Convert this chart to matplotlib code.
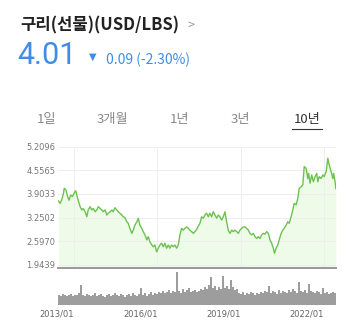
import matplotlib
matplotlib.use('Agg')
import matplotlib.pyplot as plt
import numpy as np

plt.rcParams['font.family'] = ['Noto Sans CJK KR', 'DejaVu Sans']

# price data (USD/LBS), x in decimal years
years = [2012.44, 2012.50, 2012.56, 2012.62, 2012.65, 2012.71, 2012.77, 2012.82, 2012.88, 2012.94,
         2013.00, 2013.06, 2013.10, 2013.15, 2013.22, 2013.28, 2013.33, 2013.40, 2013.46, 2013.51,
         2013.58, 2013.64, 2013.69, 2013.76, 2013.82, 2013.87, 2013.94, 2014.00, 2014.05, 2014.12,
         2014.18, 2014.23, 2014.30, 2014.36, 2014.41, 2014.47, 2014.54, 2014.59, 2014.65, 2014.72,
         2014.77, 2014.83, 2014.90, 2014.95, 2015.01, 2015.08, 2015.13, 2015.19, 2015.26, 2015.31,
         2015.37, 2015.44, 2015.49, 2015.55, 2015.62, 2015.67, 2015.73, 2015.80, 2015.85, 2015.91,
         2015.97, 2016.03, 2016.09, 2016.15, 2016.21, 2016.27, 2016.33, 2016.39, 2016.45, 2016.51,
         2016.57, 2016.63, 2016.69, 2016.75, 2016.81, 2016.87, 2016.93, 2016.99, 2017.05, 2017.11,
         2017.17, 2017.23, 2017.29, 2017.35, 2017.41, 2017.47, 2017.53, 2017.59, 2017.65, 2017.71,
         2017.77, 2017.83, 2017.89, 2017.95, 2018.01, 2018.07, 2018.13, 2018.19, 2018.25, 2018.31,
         2018.37, 2018.43, 2018.49, 2018.55, 2018.61, 2018.67, 2018.73, 2018.79, 2018.85, 2018.91,
         2018.97, 2019.03, 2019.09, 2019.15, 2019.21, 2019.27, 2019.33, 2019.39, 2019.45, 2019.51,
         2019.57, 2019.63, 2019.69, 2019.75, 2019.81, 2019.87, 2019.93, 2019.99, 2020.05, 2020.11,
         2020.17, 2020.21, 2020.27, 2020.33, 2020.38, 2020.45, 2020.51, 2020.56, 2020.63, 2020.69,
         2020.74, 2020.81, 2020.87, 2020.92, 2020.99, 2021.05, 2021.10, 2021.17, 2021.23, 2021.28,
         2021.35, 2021.41, 2021.44, 2021.49, 2021.55, 2021.61, 2021.67, 2021.73, 2021.77, 2021.82,
         2021.89, 2021.95, 2022.00, 2022.07, 2022.13, 2022.18, 2022.25, 2022.31, 2022.34, 2022.39,
         2022.42]
prices = [3.71, 3.64, 3.74, 3.92, 4.06, 4.01, 3.83, 3.73, 3.87, 3.83,
          3.92, 3.99, 3.87, 3.73, 3.55, 3.46, 3.50, 3.41, 3.27, 3.46,
          3.55, 3.46, 3.50, 3.41, 3.46, 3.55, 3.50, 3.46, 3.41, 3.46,
          3.32, 3.37, 3.41, 3.46, 3.41, 3.52, 3.46, 3.41, 3.37, 3.32,
          3.27, 3.25, 3.13, 3.09, 2.95, 2.81, 2.90, 3.04, 3.13, 3.23,
          3.04, 2.95, 2.86, 2.77, 2.63, 2.72, 2.58, 2.49, 2.44, 2.49,
          2.30, 2.40, 2.49, 2.54, 2.44, 2.54, 2.40, 2.49, 2.40, 2.49,
          2.44, 2.49, 2.40, 2.49, 2.77, 2.95, 2.90, 2.95, 2.99, 2.95,
          2.90, 2.86, 2.81, 2.86, 2.92, 3.01, 3.09, 3.27, 3.23, 3.32,
          3.37, 3.27, 3.37, 3.27, 3.41, 3.32, 3.23, 3.32, 3.27, 3.18,
          3.27, 3.41, 3.13, 2.90, 2.81, 2.90, 2.86, 2.90, 2.86, 2.81,
          2.90, 2.95, 2.99, 2.99, 2.95, 2.90, 2.81, 2.77, 2.81, 2.72,
          2.67, 2.72, 2.67, 2.77, 2.81, 2.79, 2.86, 2.81, 2.63, 2.54,
          2.40, 2.26, 2.40, 2.49, 2.63, 2.81, 2.90, 2.95, 3.04, 3.13,
          3.09, 3.27, 3.46, 3.64, 3.60, 3.78, 4.06, 4.10, 4.15, 4.66,
          4.61, 4.33, 4.47, 4.20, 4.43, 4.24, 4.38, 4.47, 4.24, 4.38,
          4.33, 4.43, 4.38, 4.52, 4.89, 4.70, 4.52, 4.33, 4.47, 4.24,
          4.05]

# volume bars (relative heights), 2012/06 -> 2022/06
volumes = [10, 9, 11, 10, 9, 10, 11, 9, 10, 10, 12, 20, 10, 9, 11, 10, 9, 10, 12, 9,
           10, 11, 9, 8, 10, 11, 9, 10, 12, 10, 9, 11, 10, 8, 10, 11, 9, 12, 10, 9,
           11, 17, 10, 12, 9, 11, 13, 10, 12, 11, 13, 12, 14, 12, 13, 15, 12, 14, 13, 33,
           14, 12, 16, 13, 15, 17, 13, 14, 15, 13, 14, 16, 15, 18, 16, 20, 28, 17, 19, 15,
           18, 16, 29, 17, 19, 16, 25, 18, 15, 16, 12, 11, 13, 10, 12, 11, 13, 12, 10, 12,
           11, 13, 12, 14, 13, 19, 12, 14, 13, 11, 15, 12, 14, 13, 12, 15, 13, 16, 14, 12,
           23, 14, 13, 15, 12, 21, 14, 13, 12, 14, 13, 11, 17, 12, 13, 11, 12, 13, 12]
vol_years = np.linspace(2012.45, 2022.40, len(volumes))

ytick_vals = [1.9439, 2.5970, 3.2502, 3.9033, 4.5565, 5.2096]
xtick_vals = [2013.0, 2016.0, 2019.0, 2022.0]
xtick_labels = ['2013/01', '2016/01', '2019/01', '2022/01']
tabs = ['1일', '3개월', '1년', '3년', '10년']

W, H = 350, 328
fig = plt.figure(figsize=(3.5, 3.28), dpi=100)
fig.patch.set_facecolor('white')

def px(x, y):
    return x / W, 1 - y / H

# header
fig.text(*px(20, 25), '구리(선물)(USD/LBS)', fontsize=12, fontweight='bold', color='#222222', va='center')
fig.text(*px(188, 25), '>', fontsize=9, color='#999999', va='center')
blue = '#3d8ee6'
fig.text(*px(17, 55), '4.01', fontsize=22, color=blue, va='center',
         family=['Roboto', 'DejaVu Sans'], fontweight='normal')
fig.text(*px(89, 57), '▼', fontsize=7, color=blue, va='center', family='DejaVu Sans')
fig.text(*px(106, 60), '0.09 (-2.30%)', fontsize=10, color=blue, va='center')

# period tabs
tab_x = [47, 112, 180, 240, 307]
for t, tx in zip(tabs, tab_x):
    c = '#333333' if t == '10년' else '#888888'
    fig.text(*px(tx, 120), t, fontsize=9.5, color=c, ha='center', va='center')
fig.add_artist(plt.Line2D([292 / W, 322 / W], [1 - 128.5 / H] * 2, color='#333333', lw=0.8))

# price chart
ax = fig.add_axes([58 / W, 1 - 268 / H, 278 / W, 121.3 / H])
ax.fill_between(years, prices, 0, color='#eefbe9', lw=0)
ax.plot(years, prices, color='#6cc24f', lw=1.0)
ax.set_xlim(2012.424, 2022.424)
ax.set_ylim(1.853, 5.2096)
ax.set_yticks(ytick_vals)
ax.set_yticklabels(['%.4f' % v for v in ytick_vals])
ax.set_xticks(xtick_vals)
ax.set_xticklabels([])
ax.grid(True, color='#eeeeee', lw=0.7)
ax.tick_params(length=0, labelsize=6, labelcolor='#777777', pad=2)
for lab in ax.get_yticklabels():
    lab.set_family('DejaVu Sans')
for s in ['top', 'right', 'left']:
    ax.spines[s].set_visible(False)
ax.spines['bottom'].set_color('#999999')
ax.spines['bottom'].set_linewidth(1.4)
ax.set_facecolor('white')

# volume chart
axv = fig.add_axes([58 / W, 1 - 305 / H, 278 / W, 35 / H])
axv.bar(vol_years, volumes, width=(vol_years[1] - vol_years[0]) * 0.85, color='#9d9d9d', lw=0)
axv.set_xlim(2012.424, 2022.424)
axv.set_ylim(0, 35)
axv.set_yticks([])
axv.set_xticks(xtick_vals)
axv.set_xticklabels(xtick_labels, family='DejaVu Sans')
for lab in axv.get_xticklabels():
    lab.set_horizontalalignment('right')
axv.tick_params(length=0, labelsize=6, labelcolor='#666666', pad=3)
for s in axv.spines.values():
    s.set_visible(False)

fig.savefig('out.png', dpi=100, facecolor='white')
